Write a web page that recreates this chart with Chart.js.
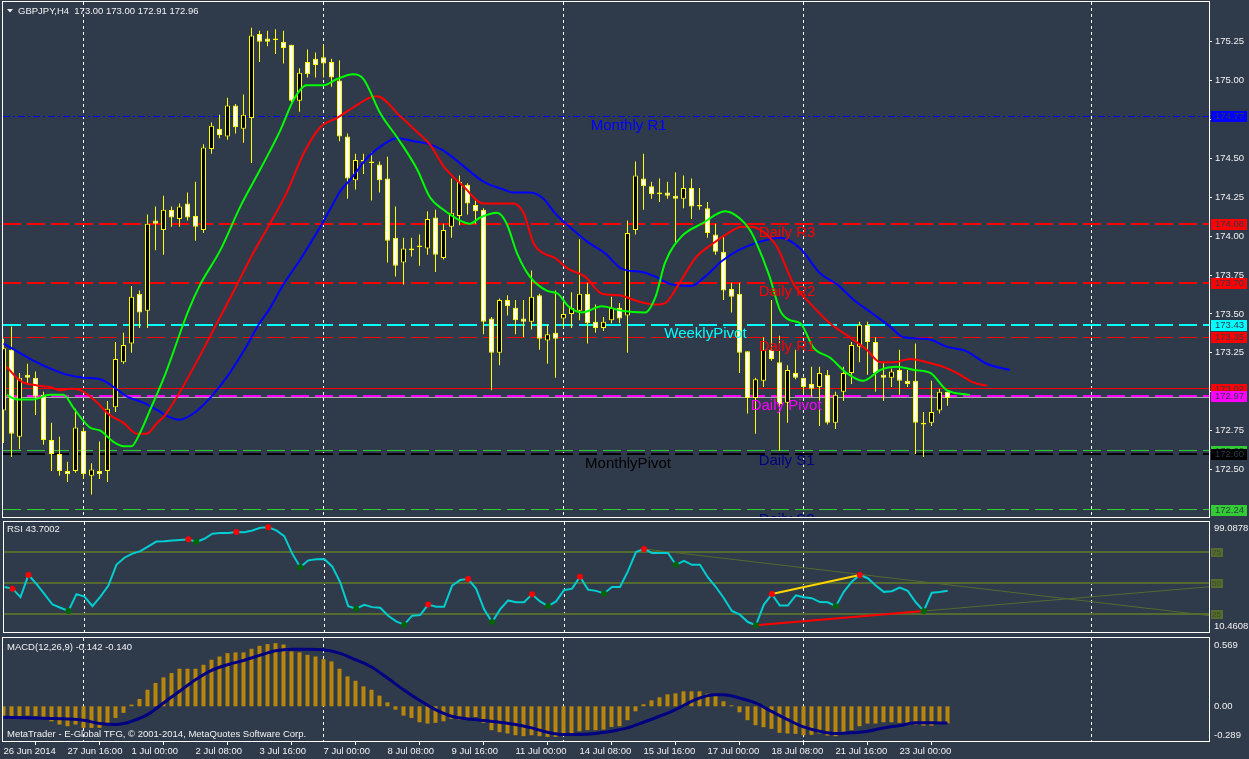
<!DOCTYPE html>
<html>
<head>
<meta charset="utf-8">
<title>GBPJPY,H4</title>
<script src="https://cdn.jsdelivr.net/npm/chart.js@4/dist/chart.umd.min.js"></script>
<style>
  html, body { margin: 0; padding: 0; background: #2f3a4b; overflow: hidden; }
  #wrap { position: relative; width: 1249px; height: 759px; }
  canvas { position: absolute; left: 0; display: block; }
</style>
</head>
<body>
<div id="wrap">
  <canvas id="priceChart" width="1249" height="518" style="top:0"></canvas>
  <canvas id="rsiChart" width="1249" height="118" style="top:518px"></canvas>
  <canvas id="macdChart" width="1249" height="123" style="top:636px"></canvas>
</div>
<script>
// values (bar index = 4h bar, 0 = 26 Jun 08:00)
const symbol = 'GBPJPY,H4'
const timeTicks = [0, 8, 16, 24, 32, 40, 48, 56, 64, 72, 80, 88, 96, 104, 112]
const timeLabels = ['26 Jun 2014', '27 Jun 16:00', '1 Jul 00:00', '2 Jul 08:00', '3 Jul 16:00', '7 Jul 00:00',
  '8 Jul 08:00', '9 Jul 16:00', '11 Jul 00:00', '14 Jul 08:00', '15 Jul 16:00', '17 Jul 00:00',
  '18 Jul 08:00', '21 Jul 16:00', '23 Jul 00:00']
const gridBars = [10, 40, 70, 100, 136]
const priceTicks = [172.50, 172.75, 173.00, 173.25, 173.50, 173.75, 174.00, 174.25, 174.50, 174.75, 175.00, 175.25]

const opens = [
  172.88, 173.27, 172.71, 173.11, 173.09, 172.98, 172.69, 172.60, 172.49, 172.49,
  172.75, 172.46, 172.49, 172.49, 172.90, 173.19, 173.31, 173.63, 173.52, 174.10,
  174.04, 174.17, 174.11, 174.21, 174.13, 174.04, 174.56, 174.69, 174.64, 174.84,
  174.69, 174.76, 175.30, 175.27, 175.27, 175.25, 175.23, 174.87, 175.12, 175.14,
  175.15, 175.12, 175.00, 174.64, 174.36, 174.49, 174.48, 174.46, 174.37, 173.99,
  173.83, 173.92, 173.93, 173.92, 174.12, 173.86, 174.06, 174.13, 174.33, 174.20,
  174.17, 173.47, 173.25, 173.59, 173.54, 173.47, 173.45, 173.62, 173.33, 173.38,
  173.47, 173.50, 173.52, 173.63, 173.45, 173.41, 173.46, 173.54, 173.49, 174.04,
  174.37, 174.32, 174.28, 174.28, 174.26, 174.24, 174.31, 174.20, 174.18, 174.01,
  173.90, 173.66, 173.63, 173.26, 172.96, 173.07, 173.27, 173.19, 172.93, 173.12,
  173.09, 173.05, 173.03, 173.11, 172.80, 173.00, 173.12, 173.29, 173.43, 173.32,
  173.11, 173.09, 173.14, 173.07, 173.07, 172.79, 172.80, 172.88, 173.00]
const highs = [
  173.34, 173.42, 173.12, 173.18, 173.13, 173.00, 172.80, 172.71, 172.55, 172.89,
  172.77, 172.54, 172.68, 172.94, 173.32, 173.38, 173.68, 173.65, 174.14, 174.19,
  174.26, 174.19, 174.21, 174.28, 174.35, 174.59, 174.73, 174.78, 174.89, 174.85,
  174.91, 175.34, 175.32, 175.32, 175.33, 175.32, 175.23, 175.08, 175.20, 175.18,
  175.23, 175.14, 175.13, 174.66, 174.53, 174.53, 174.54, 174.48, 174.51, 174.19,
  173.99, 173.99, 174.01, 174.16, 174.17, 174.08, 174.37, 174.39, 174.34, 174.23,
  174.18, 173.48, 173.60, 173.62, 173.59, 173.59, 173.78, 173.63, 173.43, 173.65,
  173.58, 173.64, 173.98, 173.70, 173.56, 173.48, 173.61, 173.57, 174.10, 174.48,
  174.53, 174.35, 174.37, 174.35, 174.41, 174.39, 174.37, 174.31, 174.22, 174.08,
  174.00, 173.70, 173.70, 173.26, 173.09, 173.35, 173.59, 173.36, 173.17, 173.27,
  173.09, 173.16, 173.16, 173.14, 173.00, 173.16, 173.32, 173.45, 173.45, 173.35,
  173.19, 173.15, 173.27, 173.14, 173.31, 172.87, 173.07, 173.02, 173.00]
const lows = [
  172.67, 172.58, 172.63, 173.05, 172.85, 172.66, 172.49, 172.46, 172.42, 172.48,
  172.44, 172.34, 172.44, 172.42, 172.87, 173.18, 173.25, 173.41, 173.41, 173.91,
  173.88, 174.06, 174.06, 174.10, 173.97, 174.02, 174.53, 174.63, 174.62, 174.66,
  174.60, 174.47, 175.12, 175.22, 175.17, 175.11, 174.86, 174.80, 175.02, 175.02,
  175.02, 174.96, 174.61, 174.24, 174.30, 174.40, 174.23, 174.28, 173.83, 173.74,
  173.69, 173.87, 173.81, 173.88, 173.77, 173.85, 173.99, 174.07, 174.14, 174.08,
  173.37, 173.01, 173.17, 173.49, 173.37, 173.35, 173.40, 173.27, 173.18, 173.09,
  173.41, 173.41, 173.46, 173.31, 173.38, 173.39, 173.44, 173.44, 173.25, 174.01,
  174.17, 174.24, 174.22, 174.24, 173.96, 174.18, 174.11, 174.17, 173.99, 173.88,
  173.59, 173.51, 173.12, 172.86, 172.73, 173.03, 173.20, 172.62, 172.80, 173.08,
  172.99, 172.97, 172.78, 172.79, 172.76, 172.94, 173.05, 173.19, 173.11, 173.00,
  172.94, 173.03, 172.98, 173.03, 172.60, 172.58, 172.78, 172.86, 172.91]
const closes = [
  173.28, 172.73, 173.09, 173.09, 172.97, 172.69, 172.60, 172.49, 172.47, 172.77,
  172.47, 172.50, 172.47, 172.89, 173.21, 173.30, 173.61, 173.51, 174.08, 174.08,
  174.17, 174.12, 174.19, 174.12, 174.06, 174.57, 174.71, 174.65, 174.84, 174.70,
  174.78, 175.29, 175.25, 175.25, 175.26, 175.21, 174.87, 175.05, 175.04, 175.10,
  175.11, 175.02, 174.64, 174.37, 174.49, 174.48, 174.47, 174.36, 173.97, 173.81,
  173.92, 173.91, 173.94, 174.11, 173.88, 174.04, 174.15, 174.35, 174.21, 174.16,
  173.45, 173.25, 173.59, 173.55, 173.46, 173.45, 173.61, 173.34, 173.37, 173.34,
  173.50, 173.54, 173.63, 173.44, 173.41, 173.45, 173.54, 173.47, 174.02, 174.39,
  174.32, 174.27, 174.27, 174.26, 174.24, 174.31, 174.19, 174.19, 174.02, 173.90,
  173.65, 173.61, 173.25, 172.96, 173.08, 173.27, 173.21, 172.92, 173.14, 173.09,
  173.03, 173.02, 173.12, 172.80, 172.98, 173.12, 173.30, 173.43, 173.32, 173.12,
  173.09, 173.13, 173.07, 173.05, 172.80, 172.80, 172.87, 173.00, 172.96]

// moving averages (shifted forward past the last bar, as on the chart)
const fastMaBars = [0.4, 1.7, 3.7, 5.8, 7.5, 8.7, 10.8, 12.1, 13.7, 15, 16, 17.1, 18.3, 20.2, 23.1, 24.6, 27.1, 29.6, 32.1, 34.6,
  36.3, 37.9, 40, 41.7, 43.7, 45, 47.1, 49.4, 51.7, 53.3, 55, 57.1, 58.3, 59.6, 61.7, 62.9, 64.2, 65.8, 67.9, 69.3,
  70.6, 72.3, 74.8, 77.3, 80.2, 81.5, 82.7, 84.8, 87.3, 90.2, 91.9, 93.3, 94, 95.7, 97.1, 98.3, 99.6, 101.3, 103.3, 105.4,
  107.5, 109.6, 111.7, 113.8, 115.9, 117.9, 120.8]
const fastMaValues = [172.98, 172.95, 172.95, 172.98, 172.98, 172.90, 172.77, 172.75, 172.68, 172.65, 172.65, 172.74, 172.88, 173.11, 173.52, 173.69, 173.91, 174.19, 174.43, 174.68,
  174.88, 174.97, 174.97, 175.01, 175.04, 175.01, 174.79, 174.62, 174.43, 174.25, 174.17, 174.10, 174.08, 174.12, 174.15, 174.08, 173.89, 173.74, 173.65, 173.63,
  173.55, 173.51, 173.55, 173.52, 173.51, 173.61, 173.83, 174.00, 174.08, 174.16, 174.12, 174.04, 173.97, 173.75, 173.52, 173.46, 173.44, 173.28, 173.22, 173.12,
  173.07, 173.14, 173.16, 173.14, 173.12, 173.01, 172.98]
const midMaBars = [0.4, 2.1, 4.2, 5.8, 7.1, 8.3, 9.6, 11.3, 13.3, 15, 16.7, 17.9, 19.2, 20.2, 27.5, 29.2, 31.2, 33.3, 35.4, 37.5,
  39.6, 41.7, 43.8, 45.8, 46.7, 49.6, 51.7, 53.3, 55, 57.5, 60, 63.7, 65, 66.3, 67.5, 68.9, 70.6, 72.7, 74.8, 76.9,
  79.4, 81.5, 82.7, 84.4, 86.5, 88.6, 90.6, 92.3, 93.5, 94.6, 95.6, 96.7, 98.8, 100.8, 103.3, 105.8, 107.9, 109.6, 111.3, 113.3,
  115.4, 117.5, 119.2, 121.2, 122.9]
const midMaValues = [173.16, 173.07, 173.04, 173.03, 173.01, 173.02, 173.01, 172.95, 172.85, 172.80, 172.73, 172.73, 172.80, 172.85, 173.52, 173.69, 173.89, 174.08, 174.28, 174.53,
  174.70, 174.76, 174.83, 174.89, 174.90, 174.77, 174.67, 174.59, 174.45, 174.32, 174.21, 174.21, 174.15, 173.95, 173.89, 173.86, 173.79, 173.74, 173.63, 173.62,
  173.58, 173.56, 173.57, 173.69, 173.86, 173.95, 174.02, 174.06, 174.06, 174.04, 174.00, 173.93, 173.69, 173.57, 173.44, 173.35, 173.27, 173.19, 173.19, 173.21,
  173.19, 173.16, 173.12, 173.06, 173.04]
const slowMaBars = [0, 1.7, 3.75, 5.8, 7.9, 10, 12.1, 13.8, 15.4, 17.5, 19.6, 20.2, 22, 24, 26, 28, 30, 32, 33.1, 35,
  37.1, 39.6, 40.8, 42.1, 43.3, 45.6, 47.5, 49.2, 51.3, 53.3, 55, 57.5, 60, 62.5, 63.7, 65.8, 67.5, 68.9, 71, 73.1,
  75.2, 77.3, 79.8, 81.5, 83.5, 86, 87.7, 89.8, 91.9, 94.3, 97.1, 99.6, 102.1, 104.2, 106.3, 108.7, 110.8, 112.5, 115.4, 117.9,
  120.4, 122.9, 125.8]
const slowMaValues = [173.31, 173.26, 173.20, 173.15, 173.11, 173.09, 173.08, 173.03, 172.97, 172.93, 172.87, 172.85, 172.82, 172.87, 172.97, 173.10, 173.26, 173.44, 173.52, 173.69,
  173.85, 174.06, 174.17, 174.29, 174.36, 174.51, 174.59, 174.63, 174.61, 174.59, 174.55, 174.45, 174.35, 174.30, 174.28, 174.28, 174.24, 174.15, 174.05, 173.96,
  173.89, 173.79, 173.77, 173.74, 173.69, 173.68, 173.74, 173.84, 173.91, 173.96, 173.99, 173.92, 173.76, 173.69, 173.59, 173.50, 173.42, 173.35, 173.34, 173.29,
  173.26, 173.18, 173.14]

// pivot / level objects
const levelPrices = [174.77, 174.08, 173.70, 173.43, 173.35, 173.02, 172.97, 172.96, 172.62, 172.60, 172.24]
const levelNames = ['Monthly R1', 'Daily R3', 'Daily R2', 'WeeklyPivot', 'Daily R1', 'Ask', 'Daily Pivot', 'Bid', 'Daily S1', 'MonthlyPivot', 'Daily S2']

// RSI window
const rsiMin = 10.4608
const rsiMax = 99.0878
const rsiLevels = [75, 50, 25]
const rsiValues = [
  46.7, 45.4, 38.5, 56.4, 49.2, 41.0, 32.6, 30.0, 27.4, 41.0,
  39.0, 31.3, 39.0, 47.9, 64.6, 70.3, 73.6, 75.6, 79.5, 83.3,
  83.6, 84.1, 84.6, 85.1, 83.1, 85.6, 89.7, 90.3, 90.3, 91.0,
  90.8, 92.3, 94.4, 94.9, 92.3, 87.7, 73.6, 62.6, 68.2, 69.0,
  69.2, 63.3, 50.5, 31.3, 29.2, 32.3, 30.5, 30.0, 23.6, 19.0,
  16.4, 23.6, 24.1, 32.6, 30.8, 30.8, 47.9, 52.3, 53.1, 45.4,
  28.7, 18.5, 28.7, 35.9, 34.4, 34.4, 40.8, 35.1, 31.3, 35.1,
  44.1, 45.4, 54.9, 44.6, 43.6, 41.5, 46.7, 46.7, 59.5, 74.9,
  77.4, 74.1, 74.1, 74.1, 64.6, 67.7, 64.6, 64.6, 54.4, 46.7,
  37.7, 27.4, 24.4, 18.5, 15.9, 32.6, 41.0, 31.8, 31.8, 40.0,
  38.5, 37.7, 34.6, 34.4, 31.3, 42.8, 51.0, 56.4, 53.8, 47.9,
  42.8, 43.3, 46.2, 43.6, 34.4, 27.4, 42.1, 42.6, 43.7002]
const rsiPeakBars = [1, 3, 23, 29, 33, 53, 58, 66, 72, 80, 96, 107]
const rsiTroughBars = [8, 24, 37, 44, 50, 61, 68, 75, 84, 94, 104, 115]
const rsiFallBars = [80, 150.7]
const rsiFallValues = [77.4, 23.7]
const rsiRiseBars = [94, 150.7]
const rsiRiseValues = [15.9, 46.9]
const rsiLowBars = [94, 115]
const rsiLowValues = [15.9, 27.4]
const rsiHighBars = [96, 107]
const rsiHighValues = [41.0, 56.4]

// MACD window
const macdMin = -0.289
const macdMax = 0.569
const macdMain = [
  -0.083, -0.097, -0.089, -0.078, -0.083, -0.105, -0.125, -0.152, -0.166, -0.152,
  -0.180, -0.180, -0.180, -0.138, -0.097, -0.055, 0.014, 0.061, 0.138, 0.194,
  0.241, 0.277, 0.313, 0.313, 0.313, 0.346, 0.388, 0.415, 0.443, 0.449,
  0.449, 0.479, 0.504, 0.518, 0.526, 0.515, 0.457, 0.449, 0.429, 0.415,
  0.393, 0.374, 0.313, 0.249, 0.213, 0.166, 0.138, 0.089, 0.033, -0.028,
  -0.078, -0.097, -0.133, -0.144, -0.138, -0.125, -0.105, -0.111, -0.097, -0.089,
  -0.138, -0.199, -0.216, -0.227, -0.241, -0.249, -0.241, -0.249, -0.255, -0.255,
  -0.244, -0.227, -0.208, -0.199, -0.199, -0.194, -0.172, -0.166, -0.116, -0.042,
  0.017, 0.050, 0.075, 0.100, 0.108, 0.125, 0.125, 0.125, 0.105, 0.089,
  0.042, 0.008, -0.050, -0.116, -0.158, -0.174, -0.188, -0.221, -0.227, -0.230,
  -0.241, -0.238, -0.227, -0.244, -0.249, -0.221, -0.199, -0.166, -0.144, -0.144,
  -0.133, -0.133, -0.138, -0.147, -0.152, -0.161, -0.161, -0.144, -0.142]
const signalBars = [0, 4, 8, 10, 12, 14, 15, 16, 18, 20, 22, 24, 26, 28, 30, 32, 34, 36, 38, 40,
  42, 44, 46, 48, 50, 52, 54, 56, 58, 59, 60, 62, 64, 66, 68, 70, 72, 74, 76, 78,
  80, 82, 84, 86, 88, 89, 90, 92, 94, 96, 98, 100, 102, 104, 106, 108, 110, 112, 114, 116, 118]
const signalValues = [-0.091, -0.097, -0.105, -0.116, -0.144, -0.152, -0.144, -0.125, -0.069, 0.028,
  0.125, 0.221, 0.299, 0.346, 0.382, 0.424, 0.462, 0.476, 0.476, 0.471,
  0.443, 0.388, 0.327, 0.235, 0.138, 0.050, -0.028, -0.083, -0.105, -0.111,
  -0.119, -0.133, -0.152, -0.180, -0.216, -0.235, -0.235, -0.227, -0.208, -0.180,
  -0.133, -0.083, -0.028, 0.042, 0.089, 0.097, 0.097, 0.069, 0.028, -0.042,
  -0.111, -0.172, -0.208, -0.227, -0.221, -0.208, -0.180, -0.161, -0.138, -0.138, -0.140]

// ---- look ----
const BG = '#2f3a4b'
const FAMILY = '"Liberation Sans", Arial, sans-serif'
const SMALL = '9.5px ' + FAMILY
const BIG = '15px ' + FAMILY
const UI_TEXT = '#f2f2f2'
const X_MIN = -0.0625
const X_MAX = 150.6875

const levelStyle = {
  'Monthly R1': { color: '#0000ff', dash: [7, 3, 2, 3], width: 1, label: 73.4, box: true },
  'Daily R3': { color: '#ff0000', dash: [18, 6], width: 2, label: 94.4, box: true },
  'Daily R2': { color: '#ff0000', dash: [18, 6], width: 2, label: 94.4, box: true },
  'WeeklyPivot': { color: '#00ffff', dash: [18, 6], width: 2, label: 82.6, box: true },
  'Daily R1': { color: '#ff0000', dash: [18, 6], width: 1, label: 94.4, box: true },
  'Ask': { color: '#ff0000', dash: [], width: 1, box: true },
  'Daily Pivot': { color: '#ff00ff', dash: [18, 6], width: 2, label: 93.4, box: true },
  'Bid': { color: '#a9a9a9', dash: [], width: 1 },
  'Daily S1': { color: '#32cd32', dash: [18, 6], width: 1, label: 94.4, text: '#000080', box: true },
  'MonthlyPivot': { color: '#000000', dash: [18, 6], width: 2, label: 72.7, box: true },
  'Daily S2': { color: '#32cd32', dash: [18, 6], width: 1, label: 94.4, text: '#000080', box: true },
}

const pts = (xs, ys) => xs.map((x, k) => ({ x, y: ys[k] }))

const fixAxis = (w, h) => scale => {
  if (w !== undefined) scale.width = w
  if (h !== undefined) scale.height = h
  scale.paddingTop = 0
  scale.paddingBottom = 0
  scale.paddingLeft = 0
  scale.paddingRight = 0
}

const hiddenX = () => ({ type: 'linear', min: X_MIN, max: X_MAX, display: false, offset: false })

const quietY = (min, max) => ({
  position: 'right', min, max,
  afterFit: fixAxis(40),
  grid: { display: false }, border: { display: false }, ticks: { display: false },
})

const put = (ctx, str, x, y, color, font, align = 'left', base = 'middle') => {
  ctx.fillStyle = color
  ctx.font = font
  ctx.textAlign = align
  ctx.textBaseline = base
  ctx.fillText(str, x, y)
}

const drawGrid = chart => {
  const { ctx, chartArea: a, scales: { x } } = chart
  ctx.save()
  ctx.strokeStyle = '#ffffff'
  ctx.lineWidth = 1
  ctx.setLineDash([3, 3])
  gridBars.forEach(b => {
    const px = Math.round(x.getPixelForValue(b) - 0.5) + 0.5
    ctx.beginPath()
    ctx.moveTo(px, a.top)
    ctx.lineTo(px, a.bottom)
    ctx.stroke()
  })
  ctx.restore()
}

const drawFrame = chart => {
  const { ctx, chartArea: a } = chart
  ctx.save()
  ctx.strokeStyle = '#ffffff'
  ctx.lineWidth = 1
  ctx.setLineDash([])
  ctx.strokeRect(a.left - 0.5, a.top - 0.5, a.right - a.left + 1, a.bottom - a.top + 1)
  ctx.restore()
}

const baseOptions = padding => ({
  responsive: false,
  animation: false,
  events: [],
  layout: { padding },
  plugins: { legend: { display: false }, tooltip: { enabled: false } },
})

// ---- price window ----
const bodies = opens.map((o, i) => ({ x: i, y: [o, closes[i]] }))
const wicks = lows.map((l, i) => ({ x: i, y: [l, highs[i]] }))
const bodyFill = opens.map((o, i) => closes[i] > o ? '#000000' : '#ffffff')

const pricePlugin = {
  id: 'pricePlugin',
  beforeDatasetsDraw: chart => {
    const { ctx, chartArea: a, scales: { y } } = chart
    drawGrid(chart)
    ctx.save()
    ctx.beginPath()
    ctx.rect(a.left, a.top, a.right - a.left, a.bottom - a.top)
    ctx.clip()
    levelPrices.forEach((p, k) => {
      const st = levelStyle[levelNames[k]]
      const py = st.width % 2 ? Math.round(y.getPixelForValue(p) - 0.5) + 0.5 : Math.round(y.getPixelForValue(p))
      ctx.strokeStyle = st.color
      ctx.lineWidth = st.width
      ctx.setLineDash(st.dash)
      ctx.beginPath()
      ctx.moveTo(a.left, py)
      ctx.lineTo(a.right, py)
      ctx.stroke()
    })
    ctx.restore()
  },
  afterDatasetsDraw: chart => {
    const { ctx, chartArea: a, scales: { x, y } } = chart
    ctx.save()
    ctx.beginPath()
    ctx.rect(a.left, a.top, a.right - a.left, a.bottom - a.top)
    ctx.clip()
    levelPrices.forEach((p, k) => {
      const name = levelNames[k]
      const st = levelStyle[name]
      if (st.label === undefined) return
      put(ctx, name, x.getPixelForValue(st.label), y.getPixelForValue(p) + 2, st.text || st.color, BIG, 'left', 'top')
    })
    ctx.restore()
  },
  afterDraw: chart => {
    const { ctx, scales: { y } } = chart
    drawFrame(chart)
    ctx.save()
    // header
    ctx.fillStyle = UI_TEXT
    ctx.beginPath()
    ctx.moveTo(7, 9)
    ctx.lineTo(13, 9)
    ctx.lineTo(10, 12.5)
    ctx.closePath()
    ctx.fill()
    const n = opens.length - 1
    const ohlc = [opens[n], highs[n], lows[n], closes[n]].map(v => v.toFixed(2)).join(' ')
    put(ctx, symbol + '  ' + ohlc, 18, 11, UI_TEXT, SMALL)
    // price tags on the scale
    levelPrices.forEach((p, k) => {
      const st = levelStyle[levelNames[k]]
      if (!st.box) return
      const py = Math.round(y.getPixelForValue(p))
      ctx.fillStyle = st.color
      ctx.fillRect(1211, py - 5, 36, 11)
      put(ctx, p.toFixed(2), 1215, py + 0.5, BG, SMALL)
    })
    ctx.restore()
  },
}

new Chart(document.getElementById('priceChart'), {
  type: 'bar',
  data: {
    datasets: [
      { type: 'line', data: pts(fastMaBars, fastMaValues), borderColor: '#00ff00', borderWidth: 2, pointRadius: 0, cubicInterpolationMode: 'monotone', order: 0 },
      { type: 'line', data: pts(midMaBars, midMaValues), borderColor: '#ff0000', borderWidth: 2, pointRadius: 0, cubicInterpolationMode: 'monotone', order: 1 },
      { type: 'line', data: pts(slowMaBars, slowMaValues), borderColor: '#0000ff', borderWidth: 2, pointRadius: 0, cubicInterpolationMode: 'monotone', order: 2 },
      { type: 'bar', data: bodies, backgroundColor: bodyFill, borderColor: '#ffff00', borderWidth: 1, borderSkipped: false, barThickness: 5, grouped: false, inflateAmount: 0, order: 3 },
      { type: 'bar', data: wicks, backgroundColor: '#ffff00', borderWidth: 0, barThickness: 1, grouped: false, inflateAmount: 0, order: 4 },
    ],
  },
  options: Object.assign(baseOptions({ left: 3, top: 2, right: 0, bottom: 1 }), {
    scales: {
      x: hiddenX(),
      y: {
        position: 'right', min: 172.195, max: 175.505,
        afterBuildTicks: s => { s.ticks = priceTicks.map(value => ({ value })) },
        afterFit: fixAxis(40),
        grid: { display: true, drawOnChartArea: false, drawTicks: true, tickLength: 3, color: '#ffffff' },
        border: { display: false },
        ticks: { color: UI_TEXT, font: { family: FAMILY, size: 9.5 }, padding: 3, autoSkip: false, callback: v => v.toFixed(2) },
      },
    },
  }),
  plugins: [pricePlugin],
})

// ---- RSI window ----
const rsiPlugin = {
  id: 'rsiPlugin',
  beforeDatasetsDraw: chart => {
    const { ctx, chartArea: a, scales: { y } } = chart
    drawGrid(chart)
    ctx.save()
    ctx.strokeStyle = '#556b2f'
    ctx.lineWidth = 2
    rsiLevels.forEach(v => {
      const py = Math.round(y.getPixelForValue(v))
      ctx.beginPath()
      ctx.moveTo(a.left, py)
      ctx.lineTo(a.right, py)
      ctx.stroke()
    })
    ctx.restore()
  },
  afterDraw: chart => {
    const { ctx, chartArea: a, scales: { y } } = chart
    drawFrame(chart)
    ctx.save()
    put(ctx, 'RSI ' + rsiValues[rsiValues.length - 1].toFixed(4), 7, 11, UI_TEXT, SMALL)
    put(ctx, rsiMax.toFixed(4), 1214, a.top + 2, UI_TEXT, SMALL, 'left', 'top')
    put(ctx, rsiMin.toFixed(4), 1214, a.bottom - 1, UI_TEXT, SMALL, 'left', 'bottom')
    rsiLevels.forEach(v => {
      const py = Math.round(y.getPixelForValue(v))
      ctx.fillStyle = '#556b2f'
      ctx.fillRect(1211, py - 4, 12, 9)
      put(ctx, String(v), 1212, py + 0.5, '#3b4a22', '8px ' + FAMILY)
    })
    ctx.restore()
  },
}

new Chart(document.getElementById('rsiChart'), {
  type: 'line',
  data: {
    datasets: [
      { data: rsiPeakBars.map(b => ({ x: b, y: rsiValues[b] })), showLine: false, pointRadius: 3, pointBorderWidth: 0, pointBackgroundColor: '#ff0000', order: 0 },
      { data: rsiTroughBars.map(b => ({ x: b, y: rsiValues[b] })), showLine: false, pointRadius: 3, pointBorderWidth: 0, pointBackgroundColor: '#006400', order: 0 },
      { data: pts(rsiHighBars, rsiHighValues), borderColor: '#ffd700', borderWidth: 2, pointRadius: 0, order: 1 },
      { data: pts(rsiLowBars, rsiLowValues), borderColor: '#ff0000', borderWidth: 2, pointRadius: 0, order: 1 },
      { data: rsiValues.map((v, i) => ({ x: i, y: v })), borderColor: '#00ced1', borderWidth: 2, pointRadius: 0, order: 2 },
      { data: pts(rsiFallBars, rsiFallValues), borderColor: '#556b2f', borderWidth: 1, pointRadius: 0, order: 3 },
      { data: pts(rsiRiseBars, rsiRiseValues), borderColor: '#556b2f', borderWidth: 1, pointRadius: 0, order: 3 },
    ],
  },
  options: Object.assign(baseOptions({ left: 3, top: 3, right: 0, bottom: 2 }), {
    scales: { x: hiddenX(), y: quietY(rsiMin, rsiMax) },
  }),
  plugins: [rsiPlugin],
})

// ---- MACD window ----
const macdPlugin = {
  id: 'macdPlugin',
  beforeDatasetsDraw: drawGrid,
  afterDraw: chart => {
    const { ctx, chartArea: a, scales: { y } } = chart
    drawFrame(chart)
    ctx.save()
    const head = 'MACD(12,26,9) ' + macdMain[macdMain.length - 1].toFixed(3) + ' ' + signalValues[signalValues.length - 1].toFixed(3)
    put(ctx, head, 7, 11, UI_TEXT, SMALL)
    put(ctx, 'MetaTrader - E-Global TFG, \u00a9 2001-2014, MetaQuotes Software Corp.', 7, 98, UI_TEXT, SMALL)
    put(ctx, macdMax.toFixed(3), 1214, a.top + 3, UI_TEXT, SMALL, 'left', 'top')
    put(ctx, '0.00', 1214, y.getPixelForValue(0), UI_TEXT, SMALL)
    put(ctx, macdMin.toFixed(3), 1214, a.bottom - 1, UI_TEXT, SMALL, 'left', 'bottom')
    ctx.restore()
  },
}

new Chart(document.getElementById('macdChart'), {
  type: 'bar',
  data: {
    datasets: [
      { type: 'line', data: pts(signalBars, signalValues), borderColor: '#000080', borderWidth: 3, pointRadius: 0, cubicInterpolationMode: 'monotone', order: 0 },
      { type: 'bar', data: macdMain.map((v, i) => ({ x: i, y: v })), backgroundColor: '#b8860b', barThickness: 4, inflateAmount: 0, order: 1 },
    ],
  },
  options: Object.assign(baseOptions({ left: 3, top: 2, right: 0, bottom: 0 }), {
    scales: {
      x: {
        type: 'linear', min: X_MIN, max: X_MAX, offset: false,
        afterBuildTicks: s => { s.ticks = timeTicks.map(value => ({ value })) },
        afterFit: fixAxis(undefined, 18),
        grid: { display: true, drawOnChartArea: false, drawTicks: true, tickLength: 4, color: '#ffffff' },
        border: { display: false },
        ticks: {
          align: 'start', autoSkip: false, maxRotation: 0, padding: 1, color: UI_TEXT,
          font: { family: FAMILY, size: 9.5 },
          callback: v => timeLabels[timeTicks.indexOf(v)] || '',
        },
      },
      y: quietY(macdMin, macdMax),
    },
  }),
  plugins: [macdPlugin],
})
</script>
</body>
</html>
